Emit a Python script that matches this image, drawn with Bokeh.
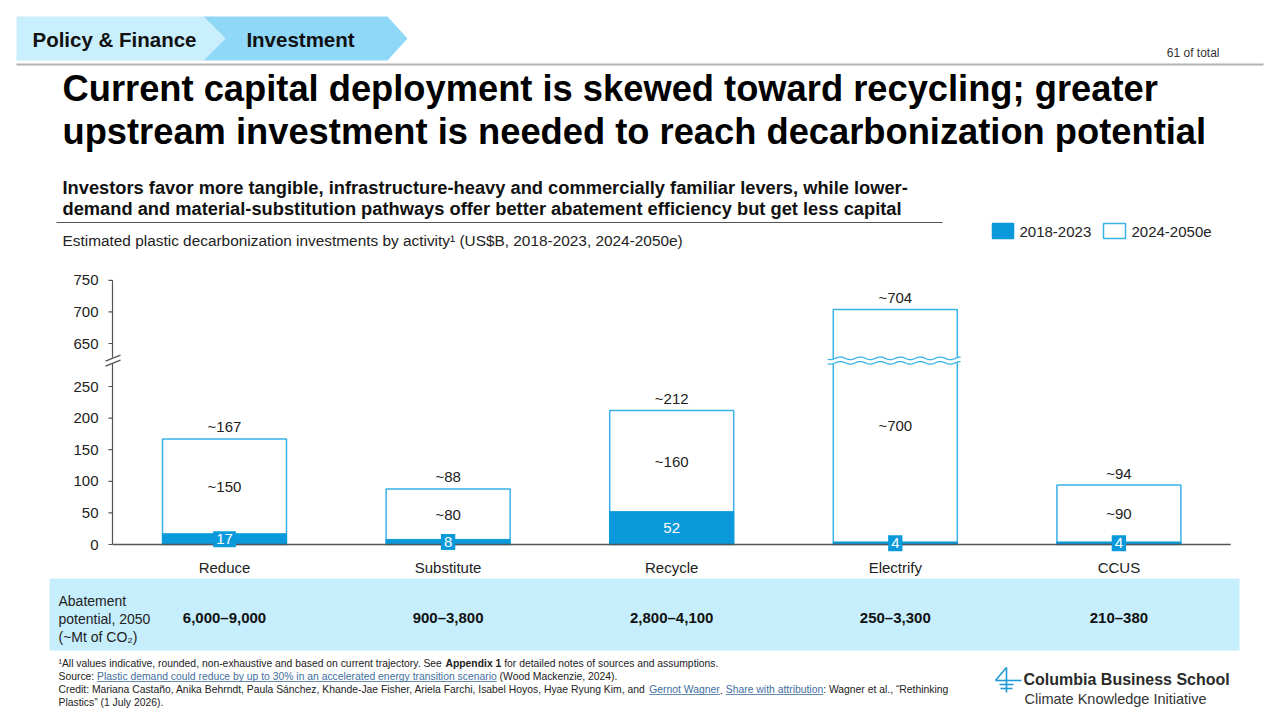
import numpy as np
from bokeh.plotting import figure
from bokeh.models import Range1d
from bokeh.core.properties import value
from bokeh.embed import file_html
from bokeh.resources import INLINE

# ---------------- data ----------------
categories = ["Reduce", "Substitute", "Recycle", "Electrify", "CCUS"]
invest_2018_2023 = [17, 8, 52, 4, 4]
invest_2024_2050e = [150, 80, 160, 700, 90]
invest_total = [167, 88, 212, 704, 94]
abatement_2050 = ["6,000–9,000", "900–3,800", "2,800–4,100", "250–3,300", "210–380"]
y_tick_values = [0, 50, 100, 150, 200, 250, 650, 700, 750]
series_names = ["2018-2023", "2024-2050e"]

# ---------------- style / layout ----------------
FONT = "Liberation Sans"
BLUE = "#0A9ADB"
OUTL = "#3AB2E8"
INK = "#222222"
BAND = "#C6EEFC"
CHEV1 = "#C9EEFC"
CHEV2 = "#8FD8F8"
LINK = "#3F6E9E"
AXC = "#555555"

W, H = 1285, 726
CAT_X0, CAT_STEP = 224.0, 223.6      # pixel of first category centre, spacing
VAL_Y0, VAL_PX = 544.0, 0.632        # pixel of value 0, pixels per unit
BREAK_MIN, BREAK_SHIFT = 300, 332    # values above BREAK_MIN are drawn shifted down
BREAK_D = 291                        # drawn position of the break
BAR_W = 124 / CAT_STEP

def disp(v):
    return v if v <= BREAK_MIN else v - BREAK_SHIFT

# Arial / Liberation Sans advance widths (per 1000 em)
REG_W = {c: 556 for c in "0123456789"}
REG_W.update(dict(zip(" !\"%&'()*+,-./:;?", [278, 278, 355, 889, 667, 191, 333, 333, 389, 584, 278, 333, 278, 278, 278, 278, 556])))
REG_W.update(dict(zip("ABCDEFGHIJKLMNOPQRSTUVWXYZ", [667, 667, 722, 722, 667, 611, 778, 722, 278, 500, 667, 556, 833, 722, 778, 667, 778, 722, 667, 611, 722, 667, 944, 667, 667, 611])))
REG_W.update(dict(zip("abcdefghijklmnopqrstuvwxyz", [556, 556, 500, 556, 556, 278, 556, 556, 222, 222, 500, 222, 833, 556, 556, 556, 556, 333, 500, 278, 556, 500, 722, 500, 500, 500])))
REG_W.update({"ñ": 556, "á": 556, "“": 333, "”": 333, "’": 222, "–": 556, "¹": 333, "~": 584, "$": 556})
BOLD_W = {c: 556 for c in "0123456789"}
BOLD_W.update(dict(zip(" !,-.;:&'()%", [278, 333, 278, 333, 278, 333, 333, 722, 238, 333, 333, 889])))
BOLD_W.update(dict(zip("ABCDEFGHIJKLMNOPQRSTUVWXYZ", [722, 722, 722, 722, 667, 611, 778, 722, 278, 556, 722, 611, 833, 722, 778, 667, 778, 722, 667, 611, 722, 667, 944, 667, 667, 611])))
BOLD_W.update(dict(zip("abcdefghijklmnopqrstuvwxyz", [556, 611, 556, 611, 556, 333, 611, 611, 278, 278, 556, 278, 889, 611, 611, 611, 611, 389, 556, 333, 611, 556, 778, 556, 556, 500])))
BOLD_W.update({"–": 556})

def tw(s, size, bold=False):
    tbl = BOLD_W if bold else REG_W
    return sum(tbl.get(c, 556) for c in s) * size / 1000.0

p = figure(width=W, height=H, x_range=Range1d(0, W), y_range=Range1d(H, 0),
           output_backend="svg", toolbar_location=None, min_border=0,
           x_axis_type=None, y_axis_type=None)
p.outline_line_color = None
p.background_fill_color = "white"
p.border_fill_color = "white"
p.extra_x_ranges = {"cat": Range1d(-CAT_X0 / CAT_STEP, (W - CAT_X0) / CAT_STEP)}
p.extra_y_ranges = {"val": Range1d(-(H - VAL_Y0) / VAL_PX, VAL_Y0 / VAL_PX)}

def txt(x, y, t, size, bold=False, color=INK, align="left", baseline="middle", **kw):
    return p.text(x=x, y=y, text=t, text_font=value(FONT), text_font_size=f"{size}px",
                  text_font_style="bold" if bold else "normal", text_color=color,
                  text_align=align, text_baseline=baseline, **kw)

# ---------------- header ----------------
p.patches(xs=[[16, 203, 225, 203, 16], [203, 387, 407, 387, 203, 225]],
          ys=[[16, 16, 38, 60, 60], [16, 16, 38, 60, 60, 38]],
          fill_color=[CHEV1, CHEV2], line_color=None)
txt([114, 300], [39, 39], ["Policy & Finance", "Investment"], 20.5, True, "#111111", "center")
p.segment(x0=16, y0=64, x1=1263, y1=64, line_color="#B4B4B4", line_width=2)
txt([1219], [52], ["61 of total"], 12, False, "#333333", "right")

title = ["Current capital deployment is skewed toward recycling; greater",
         "upstream investment is needed to reach decarbonization potential"]
t_size = 1096 / tw(title[0], 1, True)
txt([62, 62], [88, 131], title, round(t_size, 1), True, "#000000")

sub = ["Investors favor more tangible, infrastructure-heavy and commercially familiar levers, while lower-",
       "demand and material-substitution pathways offer better abatement efficiency but get less capital"]
s_size = 847 / tw(sub[0], 1, True)
txt([62, 62], [187, 208], sub, round(s_size, 1), True, "#111111")
p.segment(x0=56, y0=222, x1=942, y1=222, line_color="#555555", line_width=1)

cap = "Estimated plastic decarbonization investments by activity¹ (US$B, 2018-2023, 2024-2050e)"
c_size = 621 / tw(cap, 1)
txt([62], [240], [cap], round(c_size, 1))

# legend
p.quad(left=[992, 1103], right=[1013, 1125], top=[223, 223], bottom=[238, 238],
       fill_color=[BLUE, "white"], line_color=[BLUE, OUTL], line_width=1.5)
txt([1019, 1131], [231, 231], series_names, 15)

# ---------------- chart ----------------
xs = list(range(len(categories)))
tot_d = [disp(t) for t in invest_total]
p.vbar(x=xs, top=tot_d, bottom=0, width=BAR_W, fill_color="white", line_color=OUTL,
       line_width=1.5, x_range_name="cat", y_range_name="val")
p.vbar(x=xs, top=invest_2018_2023, bottom=0, width=BAR_W, fill_color=BLUE, line_color=BLUE,
       line_width=1, x_range_name="cat", y_range_name="val")

# wavy break on bars crossing the axis break
gap = 4.5 / VAL_PX
amp = 1.3 / VAL_PX
for i, t in enumerate(invest_total):
    if t > BREAK_MIN:
        xx = np.linspace(i - BAR_W / 2 - 0.025, i + BAR_W / 2 + 0.015, 160)
        wave = amp * np.sin((xx - i) * CAT_STEP / 20.0 * 2 * np.pi)
        lo = BREAK_D - gap / 2 + wave
        hi = BREAK_D + gap / 2 + wave
        p.varea(x=xx, y1=lo, y2=hi, fill_color="white", x_range_name="cat", y_range_name="val")
        p.line(xx, lo, line_color=OUTL, line_width=1.3, x_range_name="cat", y_range_name="val")
        p.line(xx, hi, line_color=OUTL, line_width=1.3, x_range_name="cat", y_range_name="val")

# baseline (x axis)
p.segment(x0=-0.5, x1=len(categories) - 0.5, y0=0, y1=0, line_color=AXC, line_width=1.5,
          x_range_name="cat", y_range_name="val")

# y axis with break
AX_X = 112
tick_d = [disp(v) for v in y_tick_values]
ax_gap = 3 / VAL_PX
p.segment(x0=[AX_X, AX_X], x1=[AX_X, AX_X], y0=[0, BREAK_D + ax_gap],
          y1=[BREAK_D - ax_gap, max(tick_d)], line_color=AXC, line_width=1.2, y_range_name="val")
p.segment(x0=[AX_X - 4] * len(tick_d), x1=[AX_X] * len(tick_d), y0=tick_d, y1=tick_d,
          line_color=AXC, line_width=1.2, y_range_name="val")
sl = 2.5 / VAL_PX
rise = 3 / VAL_PX
p.segment(x0=[AX_X - 7, AX_X - 7], x1=[AX_X + 8, AX_X + 8],
          y0=[BREAK_D - sl - rise, BREAK_D + sl - rise], y1=[BREAK_D - sl + rise, BREAK_D + sl + rise],
          line_color=AXC, line_width=1.2, y_range_name="val")
txt([AX_X - 14] * len(tick_d), tick_d, [str(v) for v in y_tick_values], 15, False, INK, "right",
    y_range_name="val")

# bar labels
txt(xs, [d + 12 / VAL_PX for d in tot_d], [f"~{t}" for t in invest_total], 15, False, INK, "center",
    x_range_name="cat", y_range_name="val")
txt(xs, [(h + d) / 2 for h, d in zip(invest_2018_2023, tot_d)], [f"~{v}" for v in invest_2024_2050e],
    15, False, INK, "center", x_range_name="cat", y_range_name="val")
txt(xs, [h / 2 for h in invest_2018_2023], [str(h) for h in invest_2018_2023], 15, False, "white",
    "center", x_range_name="cat", y_range_name="val", background_fill_color=BLUE, padding=3)

# category labels
txt(xs, [567] * len(xs), categories, 15, False, INK, "center", x_range_name="cat")

# ---------------- abatement band ----------------
p.quad(left=49, right=1239, top=578, bottom=650, fill_color=BAND, line_color=None)
txt([58, 58, 58], [600, 618, 636], ["Abatement", "potential, 2050", "(~Mt of CO₂)"], 14)
txt(xs, [617] * len(xs), abatement_2050, 15, True, "#111111", "center", x_range_name="cat")

# ---------------- footnotes ----------------
fn_lines = [
    [("¹All values indicative, rounded, non-exhaustive and based on current trajectory. See ", "n"),
     ("Appendix 1", "b"), (" for detailed notes of sources and assumptions.", "n")],
    [("Source: ", "n"),
     ("Plastic demand could reduce by up to 30% in an accelerated energy transition scenario", "l"),
     (" (Wood Mackenzie, 2024).", "n")],
    [("Credit: Mariana Castaño, Anika Behrndt, Paula Sánchez, Khande-Jae Fisher, Ariela Farchi, "
      "Isabel Hoyos, Hyae Ryung Kim, and ", "n"), ("Gernot Wagner", "l"), (". ", "n"),
     ("Share with attribution", "l"), (": Wagner et al., “Rethinking", "n")],
    [("Plastics” (1 July 2026).", "n")],
]
fn_size = round(890 / sum(tw(t, 1, s == "b") for t, s in fn_lines[2]), 2)
for li, parts in enumerate(fn_lines):
    y = 663 + 13 * li
    x = 58
    for t, s in parts:
        bold = s == "b"
        col = LINK if s == "l" else INK
        lead = len(t) - len(t.lstrip())
        core = t.strip()
        cx = x + tw(t[:lead], fn_size, bold)
        txt([cx], [y], [core], fn_size, bold, col)
        if s == "l":
            p.segment(x0=cx, x1=cx + tw(core, fn_size, bold), y0=y + 5, y1=y + 5,
                      line_color=LINK, line_width=0.8)
        x += tw(t, fn_size, bold)

# ---------------- logo ----------------
LC = "#1E9BD7"
p.segment(x0=[1006, 1006, 995, 999, 1000], y0=[667, 667, 680, 684, 688],
          x1=[1006, 995, 1021, 1013, 1012], y1=[692, 680, 680, 684, 688],
          line_color=LC, line_width=1.6)
txt([1023], [679], ["Columbia Business School"], 16, True, "#2A2A2A")
txt([1024], [698], ["Climate Knowledge Initiative"], 14.5, False, "#333333")

open("out.html", "w").write(file_html(p, INLINE))
